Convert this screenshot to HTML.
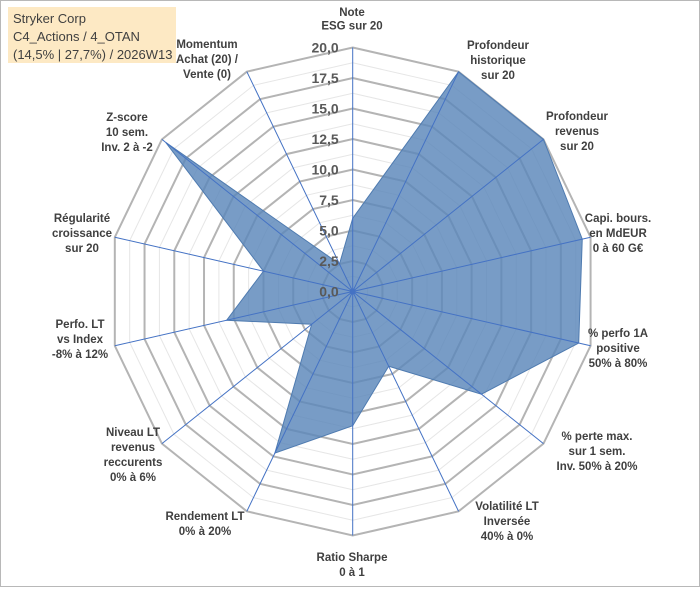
<!DOCTYPE html>
<html><head><meta charset="utf-8"><style>
body{margin:0;background:#fff;}
#wrap{position:relative;width:700px;height:587px;font-family:"Liberation Sans",Arial,sans-serif;}
svg text{font-family:"Liberation Sans",Arial,sans-serif;}
</style></head><body>
<div id="wrap">
<svg id="chart" width="700" height="587"></svg>
</div>
<script>
const categories=[["Note","ESG sur 20"],["Profondeur","historique","sur 20"],["Profondeur","revenus","sur 20"],["Capi. bours.","en MdEUR","0 à 60 G€"],["% perfo 1A","positive","50% à 80%"],["% perte max.","sur 1 sem.","Inv. 50% à 20%"],["Volatilité LT","Inversée","40% à 0%"],["Ratio Sharpe","0 à 1"],["Rendement LT","0% à 20%"],["Niveau LT","revenus","reccurents","0% à 6%"],["Perfo. LT","vs Index","-8% à 12%"],["Régularité","croissance","sur 20"],["Z-score","10 sem.","Inv. 2 à -2"],["Momentum","Achat (20) /","Vente (0)"]];
const values=[6.0,20,20,19.3,19,13.5,6.8,11.0,14.7,4.3,10.6,7.5,19.6,2.5];
const tickLabels=["0,0","2,5","5,0","7,5","10,0","12,5","15,0","17,5","20,0"];
const tickValues=[0,2.5,5,7.5,10,12.5,15,17.5,20];
const maxV=20;
const labelPos=[[352,16],[498,49],[577,120],[618,222],[618,337],[597,440],[507,510],[352,561],[205,520],[133,436],[80,328],[82,222],[127,121],[207,48]];
const NS="http://www.w3.org/2000/svg";
const svg=document.getElementById('chart');
const cx=352.7,cy=291.5,R=244;
const N=categories.length;
function ang(i){return -Math.PI/2+i*2*Math.PI/N;}
function pt(i,v){const r=v/maxV*R;return [cx+r*Math.cos(ang(i)),cy+r*Math.sin(ang(i))];}
function mk(tag,attrs){const e=document.createElementNS(NS,tag);for(const k in attrs)e.setAttribute(k,attrs[k]);svg.appendChild(e);return e;}
const frame=mk('rect',{x:0.5,y:0.5,width:699,height:586,fill:'#fff',stroke:'#b8b8b8'});


for(let v=1.25;v<=maxV;v+=2.5){const p=[];for(let i=0;i<N;i++)p.push(pt(i,v).join(','));
const g=mk('polygon',{points:p.join(' '),fill:'none',stroke:'#e6e6e6','stroke-width':1});

}
tickValues.forEach(v=>{if(v===0)return;const p=[];for(let i=0;i<N;i++)p.push(pt(i,v).join(','));
const g=mk('polygon',{points:p.join(' '),fill:'none',stroke:'#b4b4b4','stroke-width':2});

});
const sp=values.map((v,i)=>pt(i,v).join(',')).join(' ');
const poly=mk('polygon',{points:sp,fill:'#5a86ba','fill-opacity':0.82,stroke:'#4f7bb0','stroke-width':1});


for(let i=0;i<N;i++){const [x,y]=pt(i,maxV);
const l=mk('line',{x1:cx,y1:cy,x2:x,y2:y,stroke:'#4472c4','stroke-width':1});

}
const c=mk('circle',{cx:cx,cy:cy,r:3,fill:'#4472c4'});


tickValues.forEach((v,k)=>{const t=mk('text',{x:cx-14,y:cy-v/maxV*R+5,'text-anchor':'end','font-size':14,'font-weight':'bold',fill:'#595959'});
t.textContent=tickLabels[k];

});
categories.forEach((lines,i)=>{const [x,y]=labelPos[i];
const t=mk('text',{x:x,y:y,'text-anchor':'middle','font-size':11.5,'font-weight':'bold',fill:'#404040'});


lines.forEach((s,j)=>{const ts=document.createElementNS(NS,'tspan');ts.setAttribute('x',x);ts.setAttribute('dy',j===0?0:(i===0?13.5:15));ts.textContent=s;t.appendChild(ts);});});
const tb=mk('rect',{x:8,y:7,width:168,height:56,fill:'#fde9c4'});


["Stryker Corp","C4_Actions / 4_OTAN","(14,5% | 27,7%) / 2026W13"].forEach((s,j)=>{
const t=mk('text',{x:13,y:23+j*18,'font-size':13,fill:'#404040'});t.textContent=s;

});
</script>
</body></html>
